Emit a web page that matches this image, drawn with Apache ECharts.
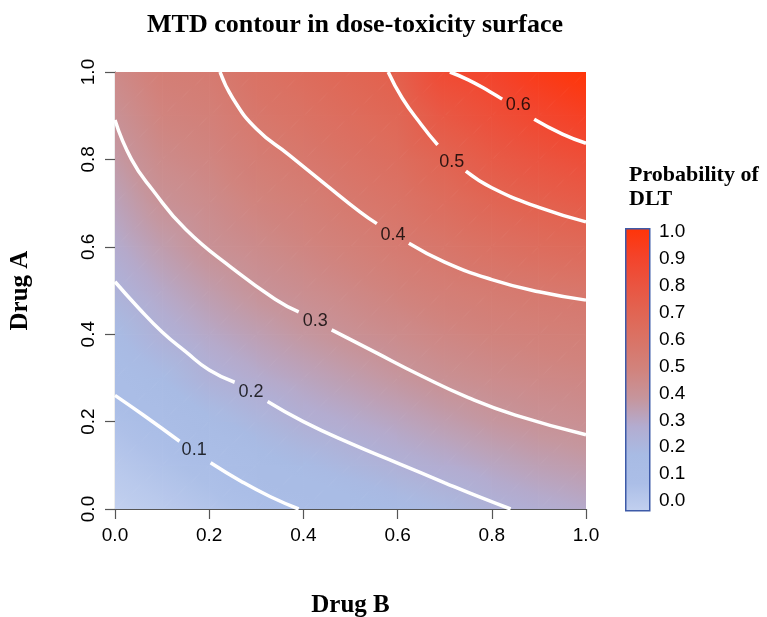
<!DOCTYPE html>
<html>
<head>
<meta charset="utf-8">
<script src="https://cdn.jsdelivr.net/npm/echarts@6/dist/echarts.min.js"></script>
<style>
html, body { margin: 0; padding: 0; background: #fff; }
#chart { width: 767px; height: 617px; }
</style>
</head>
<body>
<div id="chart"></div>
<script>
// grid of the surface (rows: Drug A, columns: Drug B)
const drugB = [0, 0.1, 0.2, 0.3, 0.4, 0.5, 0.6, 0.7, 0.8, 0.9, 1.0];
const drugA = [0, 0.1, 0.2, 0.3, 0.4, 0.5, 0.6, 0.7, 0.8, 0.9, 1.0];
const pDLT = [
    [0.020, 0.042, 0.065, 0.088, 0.102, 0.124, 0.147, 0.169, 0.195, 0.213, 0.228],
    [0.050, 0.074, 0.097, 0.128, 0.155, 0.178, 0.200, 0.219, 0.239, 0.257, 0.270],
    [0.080, 0.107, 0.146, 0.177, 0.206, 0.224, 0.243, 0.264, 0.284, 0.300, 0.310],
    [0.115, 0.154, 0.197, 0.222, 0.244, 0.265, 0.286, 0.307, 0.322, 0.334, 0.342],
    [0.154, 0.200, 0.233, 0.259, 0.283, 0.304, 0.323, 0.342, 0.357, 0.367, 0.375],
    [0.192, 0.233, 0.267, 0.296, 0.316, 0.336, 0.358, 0.377, 0.391, 0.402, 0.412],
    [0.222, 0.266, 0.302, 0.325, 0.346, 0.369, 0.393, 0.414, 0.436, 0.454, 0.468],
    [0.249, 0.299, 0.324, 0.353, 0.375, 0.401, 0.423, 0.453, 0.483, 0.505, 0.524],
    [0.276, 0.326, 0.347, 0.381, 0.404, 0.429, 0.453, 0.492, 0.530, 0.557, 0.579],
    [0.303, 0.352, 0.370, 0.408, 0.431, 0.457, 0.482, 0.542, 0.576, 0.608, 0.635],
    [0.330, 0.378, 0.393, 0.432, 0.458, 0.485, 0.512, 0.595, 0.620, 0.660, 0.690]
];

// contour lines [Drug B, Drug A], each broken in two where its label sits
const levels = ['0.1', '0.2', '0.3', '0.4', '0.5', '0.6'];
const contour01 = [
    [[0, 0.26], [0.06, 0.215], [0.137, 0.155]],
    [[0.203, 0.106], [0.27, 0.062], [0.33, 0.028], [0.39, 0]]
];
const contour02 = [
    [[0, 0.52], [0.05, 0.46], [0.1, 0.405], [0.15, 0.36], [0.2, 0.318], [0.254, 0.29]],
    [[0.324, 0.246], [0.4, 0.2], [0.5, 0.15], [0.6, 0.105], [0.7, 0.06], [0.775, 0.027], [0.84, 0]]
];
const contour03 = [
    [[0, 0.89], [0.035, 0.80], [0.08, 0.73], [0.15, 0.64], [0.25, 0.55], [0.34, 0.48], [0.39, 0.451]],
    [[0.46, 0.41], [0.55, 0.36], [0.65, 0.305], [0.75, 0.255], [0.85, 0.215], [1, 0.17]]
];
const contour04 = [
    [[0.223, 1], [0.25, 0.94], [0.3, 0.87], [0.37, 0.81], [0.45, 0.74], [0.52, 0.68], [0.556, 0.653]],
    [[0.624, 0.608], [0.7, 0.565], [0.8, 0.525], [0.9, 0.497], [1, 0.478]]
];
const contour05 = [
    [[0.58, 1], [0.61, 0.94], [0.65, 0.88], [0.685, 0.833]],
    [[0.745, 0.773], [0.8, 0.735], [0.9, 0.69], [1, 0.657]]
];
const contour06 = [
    [[0.711, 1], [0.75, 0.982], [0.796, 0.955], [0.822, 0.938]],
    [[0.89, 0.892], [0.95, 0.858], [1, 0.837]]
];
const contours = [contour01, contour02, contour03, contour04, contour05, contour06];
const labelPos = [[0.168, 0.136], [0.289, 0.268], [0.425, 0.43], [0.59, 0.627], [0.715, 0.794], [0.856, 0.925]];

const palette = ['#c2d0ef', '#abbee7', '#a8bbe4', '#b3acd0', '#c6959c', '#d1837d',
                 '#d97467', '#e16553', '#ea5440', '#f4432a', '#ff3408'];

const serif = '"Liberation Serif", "Times New Roman", serif';
const sans = '"Liberation Sans", Arial, sans-serif';

const allValues = pDLT.flat();
const vMin = Math.min(...allValues), vMax = Math.max(...allValues);
function colorOf(v) {
    return echarts.color.lerp((v - vMin) / (vMax - vMin), palette);
}

// linear gradient across one triangle so the surface looks smooth
function triFill(p, v) {
    const dx1 = p[1][0] - p[0][0], dy1 = p[1][1] - p[0][1], dv1 = v[1] - v[0];
    const dx2 = p[2][0] - p[0][0], dy2 = p[2][1] - p[0][1], dv2 = v[2] - v[0];
    const det = dx1 * dy2 - dx2 * dy1;
    const ga = (dv1 * dy2 - dv2 * dy1) / det, gb = (dx1 * dv2 - dx2 * dv1) / det;
    const g2 = ga * ga + gb * gb;
    const lo = Math.min(...v), hi = Math.max(...v);
    if (g2 < 1e-14 || hi - lo < 1e-6) return colorOf(lo);
    const s = (lo - v[0]) / g2, e = (hi - v[0]) / g2;
    const stops = [];
    for (let k = 0; k <= 4; k++) {
        stops.push({offset: k / 4, color: colorOf(lo + (hi - lo) * k / 4)});
    }
    return new echarts.graphic.LinearGradient(
        p[0][0] + ga * s, p[0][1] + gb * s, p[0][0] + ga * e, p[0][1] + gb * e, stops, true);
}

const cells = [];
for (let j = 0; j < drugA.length - 1; j++) {
    for (let i = 0; i < drugB.length - 1; i++) {
        cells.push([drugB[i], drugA[j], i, j]);
    }
}

function renderCell(params, api) {
    const i = api.value(2), j = api.value(3);
    const pts = [[i, j], [i + 1, j], [i + 1, j + 1], [i, j + 1]].map(([ii, jj]) => ({
        p: api.coord([drugB[ii], drugA[jj]]),
        v: pDLT[jj][ii]
    }));
    return {
        type: 'group',
        children: [[0, 1, 2], [0, 2, 3]].map(t => {
            const fill = triFill(t.map(k => pts[k].p), t.map(k => pts[k].v));
            return {
                type: 'polygon',
                shape: {points: t.map(k => pts[k].p)},
                style: {fill: fill, stroke: fill, lineWidth: 1}
            };
        })
    };
}

const lineSeries = [];
contours.forEach(parts => {
    parts.forEach(seg => {
        lineSeries.push({
            type: 'line',
            data: seg,
            smooth: 0.5,
            showSymbol: false,
            silent: true,
            z: 5,
            lineStyle: {color: '#ffffff', width: 3.5}
        });
    });
});

const barStops = palette.slice().reverse().map((c, k) => ({offset: k / (palette.length - 1), color: c}));

const chart = echarts.init(document.getElementById('chart'));
chart.setOption({
    animation: false,
    backgroundColor: '#ffffff',
    title: [{
        text: 'MTD contour in dose-toxicity surface',
        left: 350, top: 7, textAlign: 'center',
        textStyle: {fontFamily: serif, fontSize: 26, fontWeight: 'bold', color: '#000'}
    }, {
        text: 'Probability of\nDLT',
        left: 624, top: 158,
        textStyle: {fontFamily: serif, fontSize: 22, fontWeight: 'bold', color: '#000', lineHeight: 24}
    }],
    grid: [
        {left: 115, right: 181, top: 72, bottom: 108, outerBoundsMode: 'none'},
        {left: 625, width: 24, top: 232, height: 269, outerBoundsMode: 'none'}
    ],
    xAxis: [{
        type: 'value', min: 0, max: 1, interval: 0.2,
        name: 'Drug B', nameLocation: 'middle', nameGap: 84,
        nameTextStyle: {fontFamily: serif, fontSize: 25, fontWeight: 'bold', color: '#000'},
        axisLine: {show: true, lineStyle: {color: '#555', width: 1.2}},
        axisTick: {show: true, length: 10, lineStyle: {color: '#555', width: 1.2}},
        axisLabel: {color: '#000', fontFamily: sans, fontSize: 19, margin: 17, formatter: v => v.toFixed(1)},
        splitLine: {show: false}
    }, {
        gridIndex: 1, type: 'value', min: 0, max: 1, show: false
    }],
    yAxis: [{
        type: 'value', min: 0, max: 1, interval: 0.2,
        name: 'Drug A', nameLocation: 'middle', nameGap: 82, nameRotate: 90,
        nameTextStyle: {fontFamily: serif, fontSize: 25, fontWeight: 'bold', color: '#000'},
        axisLine: {show: true, lineStyle: {color: '#555', width: 1.2}},
        axisTick: {show: true, length: 10, lineStyle: {color: '#555', width: 1.2}},
        axisLabel: {color: '#000', fontFamily: sans, fontSize: 19, margin: 17, rotate: 90, formatter: v => v.toFixed(1)},
        splitLine: {show: false}
    }, {
        gridIndex: 1, type: 'value', min: 0, max: 1, interval: 0.1, position: 'right',
        axisLine: {show: false}, axisTick: {show: false}, splitLine: {show: false},
        axisLabel: {color: '#000', fontFamily: sans, fontSize: 19, margin: 10, formatter: v => v.toFixed(1)}
    }],
    graphic: [{
        type: 'rect', left: 625, top: 228, z: 10,
        shape: {width: 24, height: 282},
        style: {fill: new echarts.graphic.LinearGradient(0, 0, 0, 1, barStops), stroke: '#3d5aa8', lineWidth: 1.5}
    }],
    series: [{
        type: 'custom',
        data: cells,
        encode: {x: 0, y: 1},
        renderItem: renderCell,
        clip: true,
        silent: true,
        z: 1
    }].concat(lineSeries).concat([{
        type: 'scatter',
        data: levels.map((t, k) => ({name: t, value: labelPos[k]})),
        symbolSize: 1,
        itemStyle: {color: 'rgba(0,0,0,0)'},
        silent: true,
        z: 8,
        label: {show: true, position: 'inside', formatter: '{b}', color: '#000', fontFamily: sans, fontSize: 18}
    }])
});
</script>
</body>
</html>
